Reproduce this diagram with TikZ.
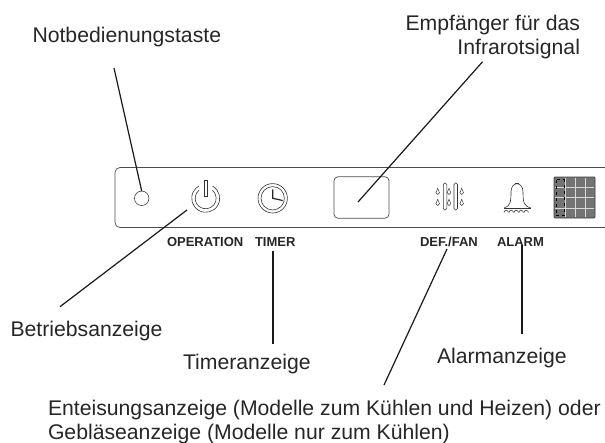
\documentclass[tikz,border=0pt]{standalone}
\usepackage{fontspec}
\setmainfont{Liberation Sans}
\usetikzlibrary{positioning}
\tikzset{
    x=1pt,y=-1pt,
    every node/.style={inner sep=0pt,outer sep=0pt,text=black!85,font=\fontsize{21.2}{24}\selectfont},
    callout/.style={line width=1.2pt,black!90},
    heavy/.style={line width=2pt,black!90},
    outline/.style={line width=0.7pt,draw=black!70},
    tag/.style={font=\fontsize{13}{15}\selectfont\bfseries,anchor=base west},
    icon/.style={line width=0.6pt,black!80},
    drop/.style={line width=0.5pt,draw=black!75}}

\begin{document}
\begin{tikzpicture}
        \useasboundingbox (0,0) rectangle (605,442);

        % panel, open on the right
        \draw[outline,rounded corners=5pt] (605,167.5) -- (115,167.5) -- (115,227.5) -- (605,227.5);

        \node[circle,draw=black!75,line width=0.6pt,minimum size=14.5pt] (button) at (141.7,198.3) {};
        \coordinate (power) at (205.7,198.3);
        \coordinate (clock) at (272.7,198.3);
        \node[outline,rounded corners=4pt,minimum width=55pt,minimum height=41.5pt] (window) at (361.5,197.5) {};

        % power symbol
        \draw[icon] (power) ++(-60:14) arc[start angle=-60,end angle=240,radius=14];
        \draw[icon] (power) ++(-50:10.5) arc[start angle=-50,end angle=230,radius=10.5];
        \draw[icon,fill=white] (204.2,180.7) rectangle (207.2,196);

        % clock symbol
        \draw[icon] (clock) circle[radius=14.7];
        \draw[icon] (clock) circle[radius=11.7];
        \draw[line width=1.2pt,black!85] (272.7,189.3) -- (clock) -- (282.7,200.5);

        % defrost symbol
        \foreach \px in {443.3,454}{
            \draw[icon,rounded corners=1.5pt] (\px,183) rectangle ++(3.5,27);
        }
        \foreach \dx in {437.7,449,461.7}{
            \foreach \dy in {191.7,202.7}{
                \draw[drop] (\dx,\dy-3.5) -- (\dx+1.8,\dy+1) arc[start angle=0,end angle=180,radius=1.8] -- cycle;
            }
        }

        % bell symbol
        \draw[icon] (504,208) .. controls (510,206) and (511,203) .. (511,192)
            .. controls (511,181) and (523,181) .. (523,192) .. controls (523,203) and (524,206) .. (531,208);
        \draw[icon] (504,208) -- (531,208);
        \draw[line width=1pt,black!80] (515,183.5) -- (519,183.5);
        \foreach \bx in {504,509,514,519,524}{
            \draw[icon] (\bx,212.5) arc[start angle=180,end angle=360,radius=2.2];
        }

        % grid block
        \node[draw=black!75,line width=0.8pt,rounded corners=1pt,fill=black!55,minimum width=41pt,minimum height=41pt] (grid) at (574.5,197.5) {};
        \foreach \gx in {565.5,575,585}{
            \draw[white!85!black,line width=0.5pt] (\gx,178) -- (\gx,217);
        }
        \foreach \gy in {187,197.5,208}{
            \draw[white!85!black,line width=0.5pt] (555,\gy) -- (594,\gy);
        }
        \draw[black,line width=0.7pt,dashed] (556,179.5) rectangle (564,215.5);

        % panel tags
        \node[tag] (operation) at (167,246) {OPERATION};
        \node[tag] (timertag) at (255,246) {TIMER};
        \node[tag] (deffan) at (420,246) {DEF./FAN};
        \node[tag] (alarmtag) at (497,246) {ALARM};

        % labels
        \node[anchor=base west] (notbed) at (32.5,42.7) {Notbedienungstaste};
        \node[anchor=base east,align=right] (empf) at (580,54) {Empf\"anger f\"ur das\\Infrarotsignal};
        \node[anchor=base west] (betrieb) at (10.5,336.7) {Betriebsanzeige};
        \node[anchor=base west] (timer) at (183,369) {Timeranzeige};
        \node[anchor=base west] (alarm) at (437,363) {Alarmanzeige};
        \node[anchor=base west,align=left] (enteis) at (48,439) {Enteisungsanzeige (Modelle zum K\"uhlen und Heizen) oder\\Gebl\"aseanzeige (Modelle nur zum K\"uhlen)};

        % connectors
        \coordinate (notbedend) at (114,68);
        \coordinate (betriebend) at (60,306.7);
        \coordinate (opend) at (187,210);
        \coordinate (timertop) at (273.4,250.5);
        \coordinate (timerend) at (273.4,344);
        \coordinate (empfend) at (482.6,61.7);
        \coordinate (empfin) at (358,202);
        \coordinate (alarmtop) at (522,245);
        \coordinate (alarmend) at (522,334);
        \coordinate (deftop) at (447,249);
        \coordinate (defend) at (384,385);
        \draw[callout] (notbedend) -- (button.north);
        \draw[callout] (betriebend) -- (opend);
        \draw[heavy] (timertop) -- (timerend);
        \draw[callout] (empfend) -- (empfin);
        \draw[heavy] (alarmtop) -- (alarmend);
        \draw[callout] (deftop) -- (defend);
    \end{tikzpicture}
\end{document}
